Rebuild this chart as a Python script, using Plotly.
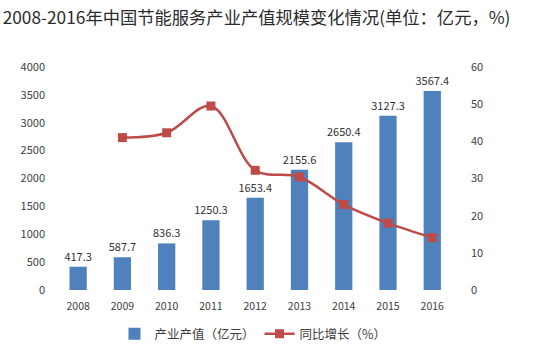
import plotly.graph_objects as go

years = ["2008", "2009", "2010", "2011", "2012", "2013", "2014", "2015", "2016"]
output_value = [417.3, 587.7, 836.3, 1250.3, 1653.4, 2155.6, 2650.4, 3127.3, 3567.4]
growth_years = ["2009", "2010", "2011", "2012", "2013", "2014", "2015", "2016"]
growth = [41.0, 42.3, 49.5, 32.2, 30.4, 23.0, 18.0, 14.1]

title_text = "2008-2016年中国节能服务产业产值规模变化情况(单位：亿元，%)"
bar_name = "产业产值（亿元）"
line_name = "同比增长（%）"

font_family = "Noto Sans CJK SC, Noto Sans, sans-serif"

fig = go.Figure()
fig.add_trace(go.Bar(
    x=years, y=output_value, name=bar_name,
    marker=dict(color="#4F81BD", line=dict(width=0)),
    width=0.39,
    text=[f"{v:.1f}" for v in output_value],
    textposition="outside",
    constraintext="none",
    textfont=dict(size=11, color="#333333"),
    cliponaxis=False,
))
fig.add_trace(go.Scatter(
    x=growth_years, y=growth, name=line_name, yaxis="y2",
    mode="lines+markers",
    line=dict(color="#BE4B48", width=2.5, shape="spline", smoothing=1),
    marker=dict(symbol="square", size=9, color="#BE4B48"),
))

fig.update_layout(
    width=537, height=348,
    margin=dict(l=56, r=79, t=67, b=58, autoexpand=False),
    paper_bgcolor="white", plot_bgcolor="white",
    font=dict(family=font_family, size=11, color="#404040"),
    title=dict(text=title_text, x=0.005, xanchor="left", y=0.948, yanchor="middle",
               font=dict(size=17.3, color="#2b2b2b")),
    showlegend=True,
    legend=dict(orientation="h", x=0.49, xanchor="center",
                yref="container", y=0.04, yanchor="middle",
                font=dict(size=12.5, color="#404040"), itemwidth=30,
                tracegroupgap=0),
    bargap=0.6,
    xaxis=dict(type="category", showline=False, ticks="", showgrid=False,
               tickfont=dict(size=10.5, color="#404040"),
               ticklabelstandoff=8),
    yaxis=dict(range=[0, 4000], dtick=500, showgrid=False, showline=False,
               zeroline=False, tickfont=dict(size=11, color="#404040"),
               ticklabelstandoff=10),
    yaxis2=dict(range=[0, 60], dtick=10, overlaying="y", side="right",
                showgrid=False, showline=False, zeroline=False,
                tickfont=dict(size=11, color="#404040"),
                ticklabelstandoff=12),
)

fig.write_html("out.html")
